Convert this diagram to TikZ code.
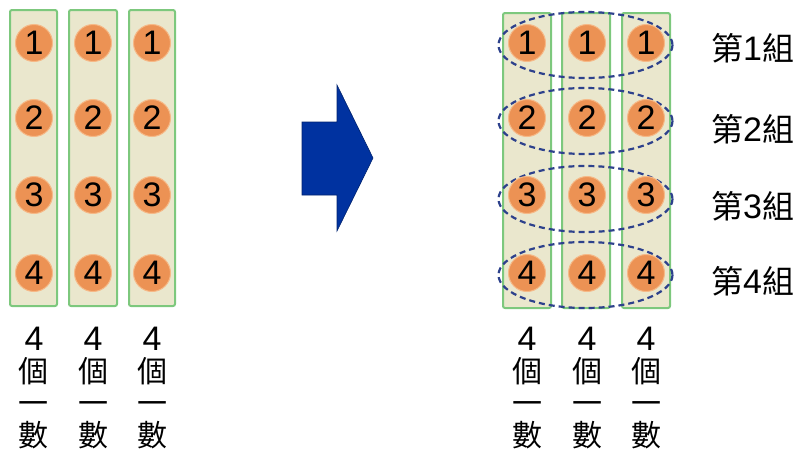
\documentclass[tikz,border=0pt]{standalone}
\usepackage{fontspec}
\setmainfont{Liberation Sans}
\newfontfamily\cjk{Noto Sans CJK TC}
\definecolor{boxfill}{RGB}{234,231,205}
\definecolor{boxline}{RGB}{125,200,125}
\definecolor{ballfill}{RGB}{236,146,84}
\definecolor{ballline}{RGB}{246,185,135}
\definecolor{ringcol}{RGB}{45,65,140}
\definecolor{arrowcol}{RGB}{0,50,160}
\definecolor{arrowline}{RGB}{0,35,110}
\begin{document}
\begin{tikzpicture}[x=1pt,y=-1pt,
 colbox/.style={draw=boxline,fill=boxfill,line width=2pt,rounded corners=2pt},
 ball/.style={circle,fill=ballfill,draw=ballline,line width=1pt,minimum size=37pt,inner sep=0pt,font=\fontsize{34}{34}\selectfont},
 ring/.style={draw=ringcol,line width=2.2pt,dash pattern=on 6pt off 4pt},
 count/.style={align=center,anchor=north,inner sep=0pt,font=\fontsize{30}{32}\selectfont},
 grp/.style={anchor=west,inner sep=0pt,font=\fontsize{32}{32}\selectfont}]
\useasboundingbox (0,0) rectangle (807,450);
% left panel
\foreach \i/\xa/\xb/\xc in {1/10/57/34, 2/69/117/93, 3/129/175/152}{
  \draw[colbox] (\xa,10) rectangle (\xb,306);
  \foreach \j/\y in {1/43,2/118,3/195,4/273}{\node[ball] (L\i\j) at (\xc,\y) {\j};}
  \node[count] (LC\i) at (\xc,327) {{\fontsize{34}{32}\selectfont 4}\\{\cjk 個}\\{\cjk 一}\\{\cjk 數}};
}
% arrow
\draw[fill=arrowcol,draw=arrowline,line width=0.6pt] (302,122) -- (337,122) -- (337,85) -- (373,158) -- (337,231) -- (337,195) -- (302,195) -- cycle;
% right panel
\foreach \i/\xa/\xb/\xc in {1/503/551/527, 2/562/610/587, 3/622/670/646}{
  \draw[colbox] (\xa,13) rectangle (\xb,308);
}
\foreach \y in {45,121,199,275}{
  \draw[ring] (585.5,\y) ellipse [x radius=87, y radius=33];
}
\foreach \i/\xc in {1/527, 2/587, 3/646}{
  \foreach \j/\y in {1/43,2/118,3/195,4/273}{\node[ball] (R\i\j) at (\xc,\y) {\j};}
  \node[count] (RC\i) at (\xc,327) {{\fontsize{34}{32}\selectfont 4}\\{\cjk 個}\\{\cjk 一}\\{\cjk 數}};
}
\foreach \j/\y in {1/48,2/129,3/206,4/281}{
  \node[grp] (G\j) at (711,\y) {{\cjk 第}{\fontsize{34}{32}\selectfont\j}{\cjk 組}};
}
\end{tikzpicture}
\end{document}
